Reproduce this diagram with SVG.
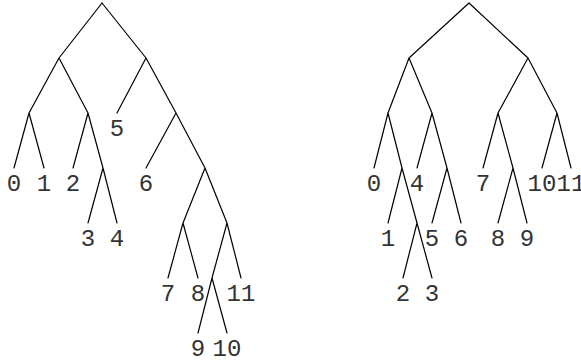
<svg xmlns="http://www.w3.org/2000/svg" width="581" height="362" viewBox="0 0 581 362">
<style>
.e{stroke:#000;stroke-width:1.2;fill:none;stroke-linecap:round}
text{font-family:"Liberation Mono","DejaVu Sans Mono",monospace;font-size:24px;fill:#333;text-anchor:middle}
</style>
<rect width="581" height="362" fill="#fff"/>
<g id="connectors">
<!-- left tree -->
<path class="e" d="M102,3L59,58M102,3L146,58
M59,58L29,113M59,58L88,113
M29,113L14,168M29,113L44,168
M88,113L73,168M88,113L103,168
M103,168L88,223M103,168L117,223
M146,58L117,113M146,58L176,113
M176,113L146,168M176,113L205,168
M205,168L183,223M205,168L227,223
M183,223L168,278M183,223L198,278
M227,223L212,278M227,223L241,278
M212,278L198,333M212,278L227,333"/>
<!-- right tree -->
<path class="e" d="M469,3L409,58M469,3L528,58
M409,58L388,113M409,58L432,113
M388,113L374,168M388,113L402,168
M402,168L388,223M402,168L417,223
M417,223L403,278M417,223L432,278
M432,113L417,168M432,113L447,168
M447,168L432,223M447,168L461,223
M528,58L498,113M528,58L557,113
M498,113L483,168M498,113L513,168
M513,168L498,223M513,168L527,223
M557,113L542,168M557,113L571,168"/>
</g>
<g id="left-tree">
<g id="L0"><text x="14" y="191">0</text></g>
<g id="L1"><text x="44" y="191">1</text></g>
<g id="L2"><text x="73" y="191">2</text></g>
<g id="L3"><text x="88" y="246">3</text></g>
<g id="L4"><text x="117" y="246">4</text></g>
<g id="L5"><text x="117" y="136">5</text></g>
<g id="L6"><text x="146" y="191">6</text></g>
<g id="L7"><text x="168" y="301">7</text></g>
<g id="L8"><text x="198" y="301">8</text></g>
<g id="L11"><text x="241" y="301">11</text></g>
<g id="L9"><text x="198" y="356">9</text></g>
<g id="L10"><text x="227" y="356">10</text></g>
</g>
<g id="right-tree">
<g id="R0"><text x="374" y="191">0</text></g>
<g id="R1"><text x="388" y="246">1</text></g>
<g id="R2"><text x="403" y="301">2</text></g>
<g id="R3"><text x="432" y="301">3</text></g>
<g id="R4"><text x="417" y="191">4</text></g>
<g id="R5"><text x="432" y="246">5</text></g>
<g id="R6"><text x="461" y="246">6</text></g>
<g id="R7"><text x="483" y="191">7</text></g>
<g id="R8"><text x="498" y="246">8</text></g>
<g id="R9"><text x="527" y="246">9</text></g>
<g id="R10"><text x="542" y="191">10</text></g>
<g id="R11"><text x="571" y="191">11</text></g>
</g>
</svg>
